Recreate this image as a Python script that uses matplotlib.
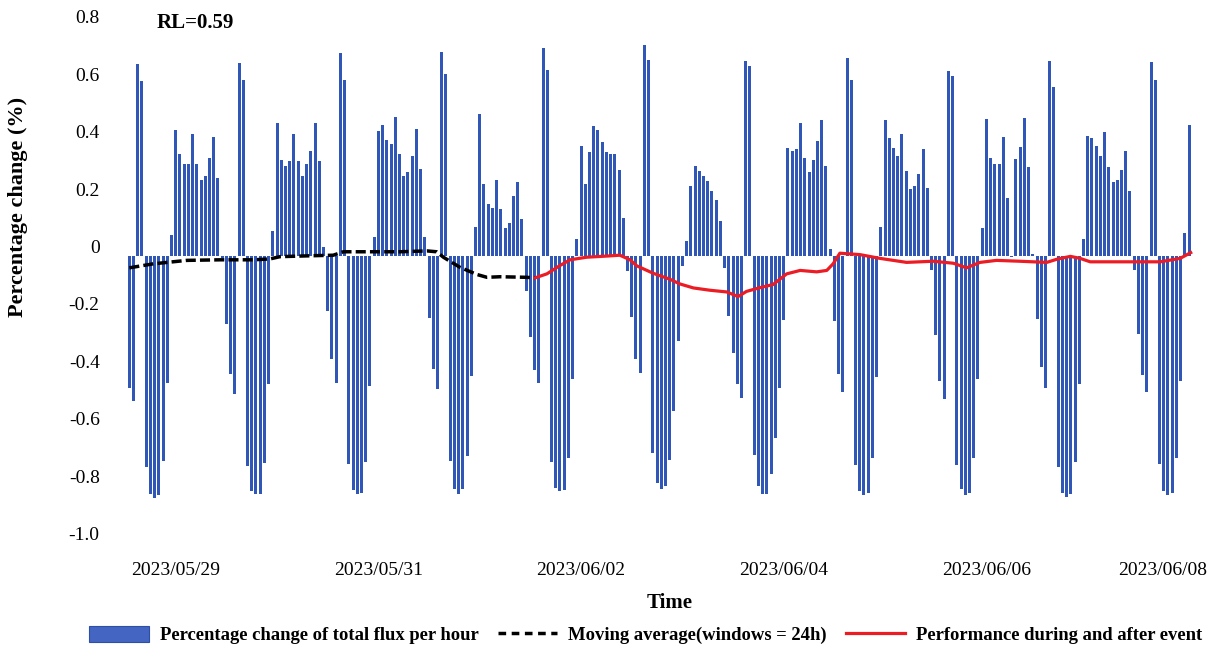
import numpy as np
import pandas as pd
import matplotlib
matplotlib.use("Agg")
import matplotlib.pyplot as plt
import matplotlib.dates as mdates
from matplotlib.transforms import ScaledTranslation
from matplotlib.patches import Patch
from matplotlib.lines import Line2D

plt.rcParams['font.family'] = ['Liberation Serif', 'DejaVu Serif']

# ---------------- data ----------------
start_time = "2023-05-28 13:00"   # first hourly bar

flux_change = [
    -0.460, -0.506,
    # 05/28-29
    0.667, 0.608, -0.736, -0.832, -0.846, -0.834, -0.716, -0.443, 0.073,
    0.439, 0.352, 0.320, 0.320, 0.425, 0.318, 0.262, 0.278, 0.341, 0.413, 0.271,
    -0.010, -0.238, -0.413, -0.483,
    # 05/29-30
    0.669, 0.611, -0.734, -0.822, -0.832, -0.832, -0.722, -0.448, 0.085,
    0.460, 0.334, 0.311, 0.329, 0.425, 0.329, 0.278, 0.318, 0.364, 0.460, 0.329,
    0.031, -0.194, -0.362, -0.443,
    # 05/30-31
    0.704, 0.613, -0.725, -0.818, -0.832, -0.827, -0.718, -0.455, 0.066,
    0.434, 0.453, 0.404, 0.387, 0.483, 0.352, 0.278, 0.290, 0.348, 0.441, 0.301,
    0.066, -0.218, -0.394, -0.464,
    # 05/31-06/01
    0.709, 0.634, -0.716, -0.813, -0.832, -0.813, -0.699, -0.420, 0.101,
    0.492, 0.248, 0.180, 0.166, 0.264, 0.162, 0.097, 0.113, 0.206, 0.255, 0.127,
    -0.122, -0.285, -0.399, -0.443,
    # 06/01-02
    0.723, 0.646, -0.720, -0.811, -0.822, -0.818, -0.704, -0.429, 0.057,
    0.383, 0.250, 0.362, 0.450, 0.436, 0.394, 0.362, 0.355, 0.352, 0.297, 0.131,
    -0.055, -0.215, -0.360, -0.408,
    # 06/02-03
    0.734, 0.681, -0.688, -0.792, -0.813, -0.804, -0.713, -0.543, -0.299, -0.036,
    0.050, 0.241, 0.311, 0.294, 0.278, 0.259, 0.224, 0.194, 0.120,
    -0.045, -0.210, -0.341, -0.448, -0.495,
    # 06/03-04
    0.678, 0.662, -0.695, -0.802, -0.832, -0.832, -0.760, -0.636, -0.462, -0.224,
    0.376, 0.364, 0.371, 0.460, 0.341, 0.290, 0.332, 0.399, 0.471, 0.313,
    0.022, -0.229, -0.413, -0.474,
    # 06/04-05
    0.688, 0.613, -0.729, -0.822, -0.836, -0.827, -0.706, -0.425, 0.101,
    0.473, 0.411, 0.376, 0.348, 0.425, 0.294, 0.232, 0.241, 0.285, 0.371, 0.236,
    -0.052, -0.276, -0.439, -0.499,
    # 06/05-06
    0.643, 0.627, -0.729, -0.813, -0.834, -0.827, -0.706, -0.432, 0.097,
    0.476, 0.341, 0.320, 0.320, 0.413, 0.201, -0.005, 0.336, 0.378, 0.480, 0.308,
    0.005, -0.222, -0.390, -0.462,
    # 06/06-07
    0.676, 0.588, -0.736, -0.827, -0.841, -0.832, -0.718, -0.448, 0.057,
    0.418, 0.411, 0.383, 0.348, 0.429, 0.308, 0.255, 0.262, 0.297, 0.364, 0.224,
    -0.052, -0.273, -0.415, -0.474,
    # 06/07-08
    0.674, 0.611, -0.725, -0.822, -0.836, -0.827, -0.706, -0.436, 0.078, 0.453,
]

# moving average (hours after start_time, value)
ma_hours = [0, 5.7, 13.6, 21.5, 29.4, 33.3, 35.7, 42.8, 48.3, 50.7, 64.1, 70.5,
            72.8, 74.4, 78.3, 82.3, 84.7, 87.8, 94.1, 96.1]
ma_values = [-0.043, -0.029, -0.017, -0.015, -0.015, -0.012, -0.004, -0.001, 0.001,
             0.013, 0.013, 0.016, 0.013, -0.006, -0.041, -0.066, -0.076, -0.074,
             -0.076, -0.078]

# performance during and after event
perf_hours = [96.1, 98.9, 102.0, 104.4, 108.3, 113.1, 116.2, 118.6, 120.2, 124.1,
              128.1, 130.4, 133.6, 137.5, 141.5, 144.2, 146.2, 149.4, 152.5, 155.7,
              158.9, 162.8, 165.2, 166.7, 168.3, 173.1, 177.8, 184.1, 190.4, 195.2,
              198.3, 201.5, 205.4, 210.9, 217.3, 219.7, 222.9, 225.2, 227.6, 237.1,
              244.2, 248.9, 251.4]
perf_values = [-0.078, -0.064, -0.035, -0.015, -0.006, -0.002, 0.001, -0.015, -0.036,
               -0.062, -0.083, -0.099, -0.113, -0.121, -0.127, -0.143, -0.125, -0.112,
               -0.101, -0.064, -0.052, -0.057, -0.052, -0.029, 0.008, 0.003, -0.010,
               -0.024, -0.020, -0.027, -0.043, -0.024, -0.017, -0.020, -0.024, -0.013,
               -0.003, -0.010, -0.022, -0.022, -0.022, -0.010, 0.010]

x_tick_dates = ["2023-05-29", "2023-05-31", "2023-06-02", "2023-06-04",
                "2023-06-06", "2023-06-08"]
x_tick_labels = ["2023/05/29", "2023/05/31", "2023/06/02", "2023/06/04",
                 "2023/06/06", "2023/06/08"]
y_ticks = [0.8, 0.6, 0.4, 0.2, 0.0, -0.2, -0.4, -0.6, -0.8, -1.0]
y_tick_labels = ["0.8", "0.6", "0.4", "0.2", "0", "-0.2", "-0.4", "-0.6", "-0.8", "-1.0"]

legend_labels = ["Percentage change of total flux per hour",
                 "Moving average(windows = 24h)",
                 "Performance during and after event"]

# ---------------- figure ----------------
W, H, DPI = 1218, 649, 100
fig = plt.figure(figsize=(W / DPI, H / DPI), dpi=DPI)
left_px, right_px, top_px, bot_px = 115, 1200, 20, 545
ax = fig.add_axes([left_px / W, 1 - bot_px / H, (right_px - left_px) / W,
                   (bot_px - top_px) / H])

t0 = pd.Timestamp(start_time)
bar_times = pd.date_range(t0, periods=len(flux_change), freq="h")
ma_times = [t0 + pd.Timedelta(hours=h) for h in ma_hours]
perf_times = [t0 + pd.Timedelta(hours=h) for h in perf_hours]

bar_color = "#3056b7"
red = "#ec1c24"
ax.bar(bar_times, flux_change, width=0.72 / 24, color=bar_color, linewidth=0)
ax.plot(ma_times, ma_values, color="black", lw=2.5, ls=(0, (2.9, 1.2)),
        solid_capstyle="butt")
ax.plot(perf_times, perf_values, color=red, lw=2.3)

# axis scaling: 4.222 px per hour, first bar at x=129.3px
px_per_h = 4.222
x0 = mdates.date2num(t0)
ax.set_xlim(x0 + (left_px - 129.3) / px_per_h / 24,
            x0 + (right_px - 129.3) / px_per_h / 24)
px_per_unit = 287.0
zero_px = 255.5
ax.set_ylim((zero_px - bot_px) / px_per_unit, (zero_px - top_px) / px_per_unit)

for s in ax.spines.values():
    s.set_visible(False)

ax.set_yticks(y_ticks)
ax.set_yticklabels(y_tick_labels, fontsize=14)
ax.set_xticks([mdates.date2num(pd.Timestamp(d)) for d in x_tick_dates])
ax.set_xticklabels(x_tick_labels, fontsize=14)
ax.tick_params(axis="both", length=0)
ax.tick_params(axis="y", pad=11)
ax.tick_params(axis="x", pad=12)

# labels sit slightly above their gridline level in the reference
for t in ax.yaxis.get_major_ticks():
    t.label1.set_transform(t.label1.get_transform() +
                           ScaledTranslation(0, 9 / DPI, fig.dpi_scale_trans))
last = ax.xaxis.get_major_ticks()[-1]
last.label1.set_transform(last.label1.get_transform() +
                          ScaledTranslation(-26 / DPI, 0, fig.dpi_scale_trans))

fig.text(157 / W, 1 - 23 / H, "RL=0.59", fontsize=15, fontweight="bold",
         ha="left", va="center")
fig.text(18 / W, 1 - 207 / H, "Percentage change (%)", fontsize=16,
         fontweight="bold", rotation=90, ha="center", va="center")
fig.text(670 / W, 1 - 603 / H, "Time", fontsize=15, fontweight="bold",
         ha="center", va="center")

handles = [Patch(facecolor="#4466c2", edgecolor="#2c4fa8", linewidth=0.8),
           Line2D([], [], color="black", lw=2.5, ls=(0, (2.2, 1.6))),
           Line2D([], [], color=red, lw=2.3)]
fig.legend(handles, legend_labels, loc="center", bbox_to_anchor=(646 / W, 1 - 635 / H),
           ncol=3, frameon=False, prop=dict(weight="bold", size=13.4),
           handlelength=3.2, handleheight=0.95, handletextpad=0.6,
           columnspacing=1.0, borderaxespad=0, borderpad=0)

fig.savefig("out.png", dpi=DPI)
